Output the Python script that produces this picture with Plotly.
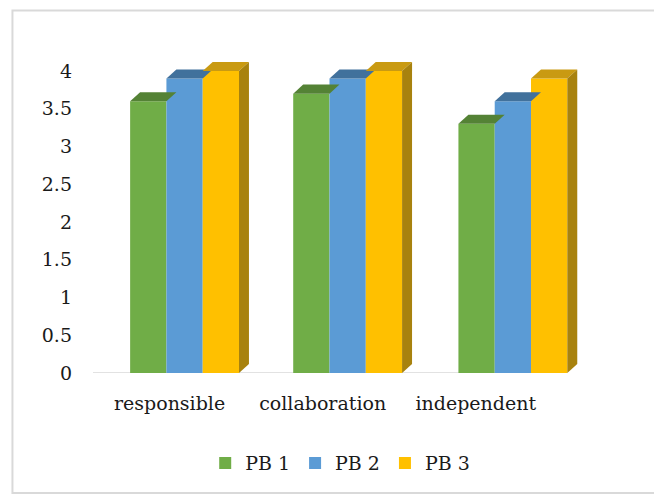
import plotly.graph_objects as go

# ---- data ----
categories = ["responsible", "collaboration", "independent"]
series_names = ["PB 1", "PB 2", "PB 3"]
pb1 = [3.6, 3.7, 3.3]
pb2 = [3.9, 3.9, 3.6]
pb3 = [4.0, 4.0, 3.9]
y_ticks = [0, 0.5, 1, 1.5, 2, 2.5, 3, 3.5, 4]

# ---- styling ----
front_colors = ["#70AD47", "#5B9BD5", "#FFC000"]
top_colors = ["#548235", "#41719C", "#C99A12"]
side_color = "#A8820E"
FONT = "DejaVu Serif"

bar_w = 0.237                       # bar width in category units
group_shift = [0.098, 0.163, 0.242]  # perspective shift of each group
depth_x = 0.065                     # depth of 3D faces (category units)
depth_y = 0.12                      # depth of 3D faces (value units)

series = [pb1, pb2, pb3]
fig = go.Figure()
for i, (name, vals) in enumerate(zip(series_names, series)):
    offs = [s - 1.5 * bar_w + i * bar_w for s in group_shift]
    fig.add_trace(go.Bar(
        name=name, x=categories, y=vals,
        width=[bar_w] * len(categories), offset=offs,
        marker=dict(color=front_colors[i], line=dict(width=0)),
        cliponaxis=False,
    ))

shapes = []
# category axis line (spans the category band only)
shapes.append(dict(type="line", xref="x", yref="y", x0=-0.5, x1=len(categories) - 0.5,
                   y0=0, y1=0, line=dict(color="#D9D9D9", width=1.5), layer="below"))
for i, vals in enumerate(series):
    for c, v in enumerate(vals):
        x0 = c + group_shift[c] - 1.5 * bar_w + i * bar_w
        x1 = x0 + bar_w
        shapes.append(dict(
            type="path", xref="x", yref="y", layer="above",
            path=f"M {x0},{v} L {x1},{v} L {x1+depth_x},{v+depth_y} L {x0+depth_x},{v+depth_y} Z",
            fillcolor=top_colors[i], line=dict(width=0)))
        if i == len(series) - 1:
            shapes.append(dict(
                type="path", xref="x", yref="y", layer="above",
                path=f"M {x1},0 L {x1+depth_x},{depth_y} L {x1+depth_x},{v+depth_y} L {x1},{v} Z",
                fillcolor=side_color, line=dict(width=0)))

# outer frame
shapes.append(dict(type="rect", xref="paper", yref="paper",
                   x0=-0.1644, x1=1.156, y0=-0.3715, y1=1.122,
                   line=dict(color="#D9D9D9", width=2), fillcolor="rgba(0,0,0,0)", layer="below"))

fig.update_layout(
    width=654, height=487,
    margin=dict(l=85, r=79.4, t=42, b=122),
    paper_bgcolor="white", plot_bgcolor="white",
    font=dict(family=FONT, size=19, color="#1a1a1a"),
    barmode="group",
    shapes=shapes,
    showlegend=True,
    legend=dict(orientation="h", x=0.5045, xanchor="center", y=-0.279, yanchor="middle",
                font=dict(size=19), itemwidth=30, traceorder="normal"),
    xaxis=dict(type="category", range=[-0.5, 2.7], showline=False,
               showgrid=False, ticks="", ticklabelstandoff=17,
               tickfont=dict(size=19)),
    yaxis=dict(range=[0, 4.278], tickvals=y_ticks, ticktext=[f"{t:g}" for t in y_ticks],
               showgrid=False, zeroline=False, showline=False, ticks="",
               ticklabelstandoff=20, tickfont=dict(size=19)),
)

fig.write_html("out.html")
